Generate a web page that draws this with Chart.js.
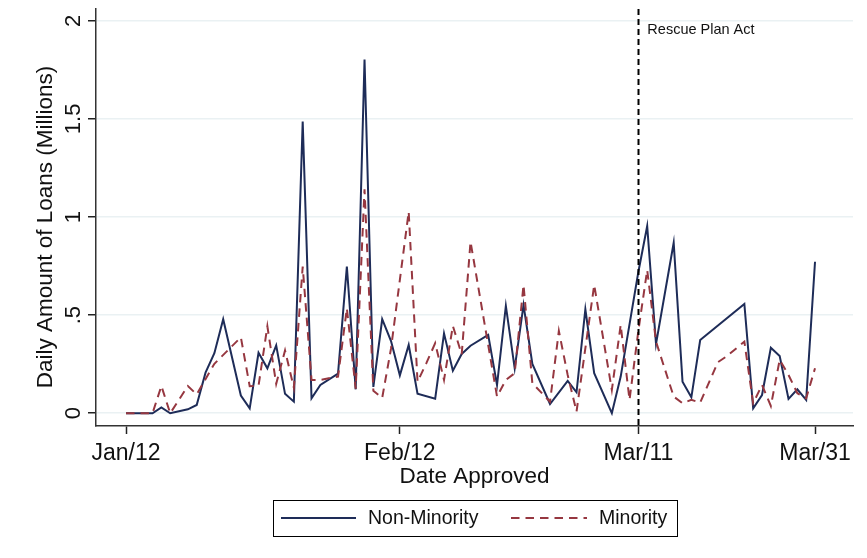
<!DOCTYPE html>
<html>
<head>
<meta charset="utf-8">
<script src="https://cdn.jsdelivr.net/npm/chart.js@4.4.1/dist/chart.umd.min.js"></script>
<style>
html, body { margin: 0; padding: 0; background: #fff; }
</style>
</head>
<body>
<canvas id="myChart" width="867" height="558"></canvas>
<script>
// days since Jan 12 (2021)
const nonMinorityDays = [0, 1, 2, 3, 4, 5, 7, 8, 9, 10, 11, 13, 14, 15, 16, 17, 18, 19, 20, 21, 22, 24, 25, 26, 27, 28, 29, 30, 31, 32, 33, 35, 36, 37, 38, 39, 41, 42, 43, 44, 45, 46, 48, 50, 51, 52, 53, 55, 56, 58, 59, 60, 62, 63, 64, 65, 70, 71, 72, 73, 74, 75, 76, 77, 78];
const nonMinorityValues = [0, 0, 0, 0, 0.03, 0, 0.02, 0.042, 0.207, 0.306, 0.479, 0.09, 0.025, 0.308, 0.229, 0.346, 0.099, 0.059, 1.486, 0.076, 0.144, 0.202, 0.748, 0.122, 1.803, 0.134, 0.479, 0.368, 0.193, 0.348, 0.1, 0.074, 0.407, 0.217, 0.302, 0.344, 0.399, 0.144, 0.547, 0.229, 0.552, 0.251, 0.047, 0.165, 0.107, 0.53, 0.204, 0, 0.187, 0.72, 0.954, 0.353, 0.869, 0.161, 0.081, 0.373, 0.557, 0.025, 0.093, 0.334, 0.292, 0.073, 0.122, 0.068, 0.772];

const minorityDays = [0, 1, 2, 3, 4, 5, 7, 8, 10, 13, 14, 15, 16, 17, 18, 19, 20, 21, 22, 24, 25, 26, 27, 28, 29, 30, 31, 32, 33, 34, 35, 36, 37, 38, 39, 42, 43, 44, 45, 46, 48, 49, 50, 51, 53, 55, 56, 57, 58, 59, 60, 62, 63, 64, 65, 67, 68, 70, 71, 72, 73, 74, 75, 76, 77, 78];
const minorityValues = [0, 0, 0, 0, 0.139, 0, 0.139, 0.096, 0.252, 0.387, 0.138, 0.14, 0.443, 0.15, 0.32, 0.13, 0.747, 0.17, 0.17, 0.187, 0.535, 0.125, 1.141, 0.115, 0.078, 0.33, 0.68, 1.027, 0.161, 0.255, 0.357, 0.17, 0.445, 0.3, 0.874, 0.085, 0.17, 0.204, 0.654, 0.153, 0.059, 0.419, 0.195, 0.008, 0.654, 0.119, 0.45, 0.068, 0.42, 0.73, 0.365, 0.085, 0.051, 0.068, 0.054, 0.26, 0.29, 0.365, 0.051, 0.144, 0.037, 0.272, 0.195, 0.102, 0.076, 0.229];

const xTickDays = [0, 31, 58, 78];
const xTickLabels = ['Jan/12', 'Feb/12', 'Mar/11', 'Mar/31'];
const yTickValues = [0, 0.5, 1, 1.5, 2];
const yTickLabels = ['0', '.5', '1', '1.5', '2'];
const rescueDay = 58;
const rescueLabel = 'Rescue Plan Act';

const navy = 'rgb(30, 44, 88)';
const maroon = 'rgb(150, 55, 64)';
const fontFamily = '"Liberation Sans", Arial, Helvetica, sans-serif';

const toPoints = (days, values) => days.map((d, i) => ({ x: d, y: values[i] }));

const extras = {
  id: 'extras',
  afterDatasetsDraw(chart) {
    const { ctx, chartArea, scales: { x } } = chart;
    const px = Math.round(x.getPixelForValue(rescueDay)) + 0.5;
    ctx.save();
    ctx.strokeStyle = '#000';
    ctx.lineWidth = 2;
    ctx.setLineDash([6, 4]);
    ctx.beginPath();
    ctx.moveTo(px, chartArea.top);
    ctx.lineTo(px, chartArea.bottom);
    ctx.stroke();
    ctx.restore();
  },
  afterDraw(chart) {
    const { ctx, chartArea, scales: { x, y } } = chart;
    ctx.save();
    ctx.fillStyle = '#111';

    // y tick labels, turned like the axis title
    ctx.font = '22px ' + fontFamily;
    ctx.textAlign = 'center';
    ctx.textBaseline = 'middle';
    yTickValues.forEach((v, i) => {
      ctx.save();
      ctx.translate(73, y.getPixelForValue(v));
      ctx.rotate(-Math.PI / 2);
      ctx.fillText(yTickLabels[i], 0, 1);
      ctx.restore();
    });

    // y axis title
    ctx.save();
    ctx.font = '22.5px ' + fontFamily;
    ctx.translate(46, 227);
    ctx.rotate(-Math.PI / 2);
    ctx.fillText('Daily Amount of Loans (Millions)', 0, 0);
    ctx.restore();

    // annotation
    ctx.font = '14.5px ' + fontFamily;
    ctx.textAlign = 'left';
    ctx.fillText(rescueLabel, x.getPixelForValue(rescueDay) + 9, chartArea.top + 21);

    // legend
    const bx = 273, by = 500, bw = 404, bh = 36, cy = by + bh / 2;
    ctx.strokeStyle = '#000';
    ctx.lineWidth = 1;
    ctx.strokeRect(bx + 0.5, by + 0.5, bw, bh);
    ctx.lineWidth = 2;
    ctx.strokeStyle = navy;
    ctx.beginPath();
    ctx.moveTo(281, cy);
    ctx.lineTo(356, cy);
    ctx.stroke();
    ctx.strokeStyle = maroon;
    ctx.setLineDash([8.5, 6]);
    ctx.beginPath();
    ctx.moveTo(511, cy);
    ctx.lineTo(587, cy);
    ctx.stroke();
    ctx.setLineDash([]);
    ctx.font = '19.5px ' + fontFamily;
    ctx.fillStyle = '#111';
    ctx.fillText('Non-Minority', 368, cy + 1);
    ctx.fillText('Minority', 599, cy + 1);
    ctx.restore();
  }
};

const config = {
  type: 'line',
  data: {
    datasets: [{
      label: 'Non-Minority',
      data: toPoints(nonMinorityDays, nonMinorityValues),
      borderColor: navy,
      borderWidth: 2,
      pointRadius: 0,
      tension: 0,
      order: 1
    }, {
      label: 'Minority',
      data: toPoints(minorityDays, minorityValues),
      borderColor: maroon,
      borderWidth: 2,
      borderDash: [8.5, 6],
      pointRadius: 0,
      tension: 0,
      order: 0
    }]
  },
  options: {
    responsive: false,
    animation: false,
    devicePixelRatio: 1,
    layout: { padding: { left: 0, top: 9, right: 14, bottom: 0 } },
    plugins: {
      legend: { display: false },
      tooltip: { enabled: false }
    },
    scales: {
      x: {
        type: 'linear',
        min: -3.4,
        max: 82.3,
        afterBuildTicks: (scale) => { scale.ticks = xTickDays.map(v => ({ value: v })); },
        afterFit: (scale) => { scale.height = 132; },
        grid: { drawOnChartArea: false, drawTicks: true, tickLength: 8, tickColor: '#222', tickWidth: 1.5 },
        border: { display: true, color: '#333', width: 1.5 },
        ticks: {
          autoSkip: false,
          maxRotation: 0,
          padding: 6,
          color: '#111',
          font: { family: fontFamily, size: 23 },
          callback: (v) => xTickLabels[xTickDays.indexOf(v)]
        },
        title: {
          display: true,
          text: 'Date Approved',
          color: '#111',
          font: { family: fontFamily, size: 22.5 },
          padding: { top: 0, bottom: 68 }
        }
      },
      y: {
        type: 'linear',
        min: -0.065,
        max: 2.06,
        afterBuildTicks: (scale) => { scale.ticks = yTickValues.map(v => ({ value: v })); },
        afterFit: (scale) => { scale.width = 96; },
        grid: { color: 'rgb(234, 241, 243)', lineWidth: 1.5, drawTicks: true, tickLength: 8, tickColor: '#222', tickWidth: 1.5 },
        border: { display: true, color: '#333', width: 1.5 },
        ticks: { display: false }
      }
    }
  },
  plugins: [extras]
};

const myChart = new Chart(
  document.getElementById('myChart'),
  config
);
</script>
</body>
</html>
